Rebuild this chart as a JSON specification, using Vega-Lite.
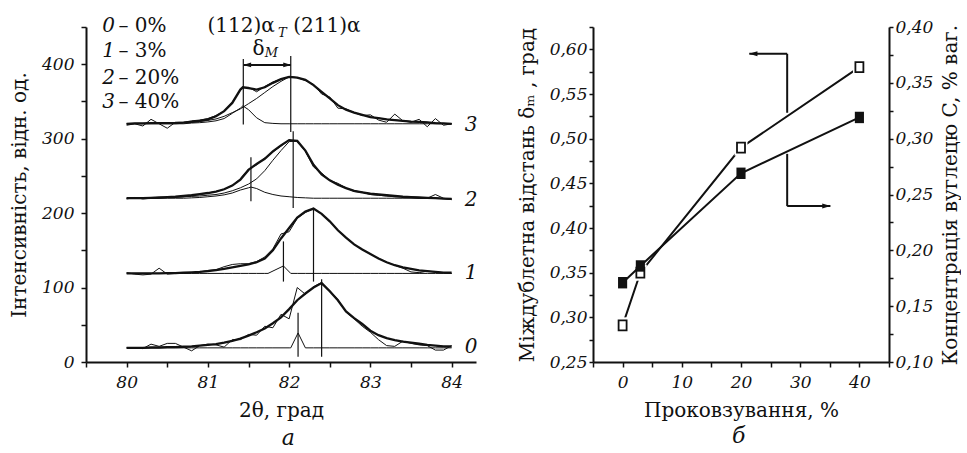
{
  "$schema": "https://vega.github.io/schema/vega-lite/v6.json",
  "background": "white",
  "autosize": {"type": "pad"},
  "padding": {"left": 9, "top": 16, "right": 0, "bottom": 0},
  "spacing": 117,
  "bounds": "flush",
  "config": {
    "view": {"stroke": null},
    "axis": {
      "grid": false,
      "domainColor": "#111",
      "domainWidth": 2,
      "tickColor": "#111",
      "tickWidth": 1.5,
      "tickSize": 5,
      "labelFont": "DejaVu Serif",
      "labelFontStyle": "italic",
      "labelFontSize": 17,
      "labelColor": "#111",
      "labelOverlap": false,
      "labelFlush": false,
      "titleFont": "DejaVu Serif",
      "titleFontSize": 20,
      "titleFontWeight": "normal",
      "titleColor": "#111"
    },
    "text": {"font": "DejaVu Serif", "color": "#111"}
  },
  "datasets": {
    "xrd": [
      {"t":80.0,"e0":19,"f0":19,"s0":19,"e1":120,"f1":119,"s1":119,"e2":219,"f2":220,"m2":220,"s2":220,"e3":318,"f3":320,"m3":320,"s3":320},
      {"t":80.1,"e0":19,"f0":19,"s0":19,"e1":118,"f1":119,"s1":119,"e2":221,"f2":220,"m2":220,"s2":220,"e3":320,"f3":320.5,"m3":320.5,"s3":320},
      {"t":80.2,"e0":18,"f0":19,"s0":19,"e1":117,"f1":119,"s1":119,"e2":219,"f2":220,"m2":220,"s2":220,"e3":317,"f3":320.5,"m3":320.5,"s3":320},
      {"t":80.3,"e0":24,"f0":19.5,"s0":19,"e1":118,"f1":119,"s1":119,"e2":220,"f2":220.5,"m2":220.5,"s2":220,"e3":326,"f3":321,"m3":321,"s3":320},
      {"t":80.4,"e0":21,"f0":19.5,"s0":19,"e1":126,"f1":119,"s1":119,"e2":220,"f2":221,"m2":221,"s2":220,"e3":320,"f3":321,"m3":321,"s3":320},
      {"t":80.5,"e0":25,"f0":20,"s0":19,"e1":118,"f1":119.5,"s1":119,"e2":221,"f2":221.5,"m2":221,"s2":220,"e3":314,"f3":321,"m3":321,"s3":320},
      {"t":80.6,"e0":25,"f0":20,"s0":19,"e1":119,"f1":119.5,"s1":119,"e2":222,"f2":222,"m2":221.5,"s2":220,"e3":322,"f3":321,"m3":321,"s3":320},
      {"t":80.7,"e0":20,"f0":20.5,"s0":19,"e1":119,"f1":120,"s1":119,"e2":222,"f2":223,"m2":222,"s2":220,"e3":322,"f3":321.5,"m3":321.5,"s3":320},
      {"t":80.8,"e0":15,"f0":21,"s0":19,"e1":120,"f1":120.5,"s1":119,"e2":224,"f2":224,"m2":222.5,"s2":220.5,"e3":324,"f3":322.5,"m3":322,"s3":321},
      {"t":80.9,"e0":22,"f0":22,"s0":19,"e1":121,"f1":121,"s1":119,"e2":225,"f2":225.5,"m2":223,"s2":221,"e3":325,"f3":324,"m3":323,"s3":321.5},
      {"t":81.0,"e0":24,"f0":23,"s0":19,"e1":123,"f1":122,"s1":119,"e2":227,"f2":227,"m2":224,"s2":222,"e3":327,"f3":326,"m3":324.5,"s3":322.5},
      {"t":81.1,"e0":23,"f0":24,"s0":19,"e1":124,"f1":123.5,"s1":119,"e2":229,"f2":229,"m2":225,"s2":223,"e3":331,"f3":330,"m3":326.5,"s3":324},
      {"t":81.2,"e0":20,"f0":26,"s0":19,"e1":128,"f1":125,"s1":119,"e2":232,"f2":232,"m2":227,"s2":224.5,"e3":337,"f3":337,"m3":330,"s3":327},
      {"t":81.3,"e0":30,"f0":28.5,"s0":19,"e1":131,"f1":127,"s1":119,"e2":237,"f2":237,"m2":230,"s2":227,"e3":349,"f3":348,"m3":335,"s3":334},
      {"t":81.4,"e0":30,"f0":31.5,"s0":19,"e1":132,"f1":129,"s1":119,"e2":246,"f2":245,"m2":234,"s2":231,"e3":365,"f3":366,"m3":340,"s3":341},
      {"t":81.43,"e3":369,"f3":369,"s3":344},
      {"t":81.5,"e0":37,"f0":35.5,"s0":19,"e1":132,"f1":131,"s1":119,"e2":259,"f2":258,"m2":239,"s2":234,"e3":369,"f3":368,"m3":347,"s3":339},
      {"t":81.53,"s2":235},
      {"t":81.6,"e0":36,"f0":40,"s0":19,"e1":135,"f1":134,"s1":119,"e2":265,"f2":266,"m2":246,"s2":233,"e3":363,"f3":366,"m3":354,"s3":328},
      {"t":81.7,"e0":48,"f0":45,"s0":19,"e1":141,"f1":139,"s1":119,"e2":274,"f2":273,"m2":257,"s2":228,"e3":370,"f3":369,"m3":362,"s3":321.5},
      {"t":81.74,"s1":119},
      {"t":81.8,"e0":46,"f0":52,"s0":19,"e1":152,"f1":150,"e2":282,"f2":283,"m2":271,"s2":225,"e3":376,"f3":375,"m3":370,"s3":320.5},
      {"t":81.9,"e0":64,"f0":60,"s0":19,"e1":172,"f1":166,"e2":290,"f2":291,"m2":284,"s2":223,"e3":380,"f3":380,"m3":377,"s3":320},
      {"t":81.93,"s1":129},
      {"t":82.0,"e0":58,"f0":71,"s0":19,"e1":175,"f1":180,"e2":298,"f2":298,"m2":296,"s2":222,"e3":383,"f3":383,"m3":383,"s3":320},
      {"t":82.02,"s0":19,"s1":119},
      {"t":82.1,"e0":100,"f0":83,"e1":193,"f1":194,"s1":119,"e2":296,"f2":297,"m2":297,"s2":221,"e3":382,"f3":382,"m3":382,"s3":320},
      {"t":82.11,"s0":39},
      {"t":82.2,"e0":91,"f0":92,"s0":19,"e1":201,"f1":202,"s1":119,"e2":283,"f2":284,"m2":284,"s2":220.5,"e3":378,"f3":379,"m3":379,"s3":320},
      {"t":82.3,"e0":101,"f0":100,"s0":19,"e1":206,"f1":206,"s1":119,"e2":262,"f2":265,"m2":265,"s2":220,"e3":373,"f3":372,"m3":372,"s3":320},
      {"t":82.4,"e0":107,"f0":106,"s0":19,"e1":199,"f1":199,"s1":119,"e2":254,"f2":252,"m2":252,"s2":220,"e3":360,"f3":363,"m3":363,"s3":320},
      {"t":82.5,"e0":96,"f0":95,"s0":19,"e1":189,"f1":189,"s1":119,"e2":244,"f2":244,"m2":244,"s2":220,"e3":356,"f3":354,"m3":354,"s3":320},
      {"t":82.6,"e0":84,"f0":83,"s0":19,"e1":177,"f1":177,"s1":119,"e2":240,"f2":238,"m2":238,"s2":220,"e3":341,"f3":345,"m3":345,"s3":320},
      {"t":82.7,"e0":67,"f0":68,"s0":19,"e1":167,"f1":167,"s1":119,"e2":234,"f2":233.5,"m2":233.5,"s2":220,"e3":340,"f3":339,"m3":339,"s3":320},
      {"t":82.8,"e0":58,"f0":59,"s0":19,"e1":158,"f1":158,"s1":119,"e2":229,"f2":230,"m2":230,"s2":220,"e3":335,"f3":335,"m3":335,"s3":320},
      {"t":82.9,"e0":48,"f0":51,"s0":19,"e1":151,"f1":151,"s1":119,"e2":228,"f2":228,"m2":228,"s2":220,"e3":331,"f3":332,"m3":332,"s3":320},
      {"t":83.0,"e0":40,"f0":42,"s0":19,"e1":145,"f1":145,"s1":119,"e2":225,"f2":226,"m2":226,"s2":220,"e3":332,"f3":329,"m3":329,"s3":320},
      {"t":83.1,"e0":30,"f0":36,"s0":19,"e1":139,"f1":139,"s1":119,"e2":224,"f2":225,"m2":225,"s2":220,"e3":325,"f3":327.5,"m3":327.5,"s3":320},
      {"t":83.2,"e0":22,"f0":32,"s0":19,"e1":134,"f1":134,"s1":119,"e2":223,"f2":224,"m2":224,"s2":220,"e3":322,"f3":326,"m3":326,"s3":320},
      {"t":83.3,"e0":21,"f0":29.5,"s0":19,"e1":130,"f1":130,"s1":119,"e2":222,"f2":223,"m2":223,"s2":220,"e3":333,"f3":325,"m3":325,"s3":320},
      {"t":83.4,"e0":28,"f0":27.5,"s0":19,"e1":126,"f1":127,"s1":119,"e2":222,"f2":222,"m2":222,"s2":220,"e3":324,"f3":324,"m3":324,"s3":320},
      {"t":83.5,"e0":25,"f0":26,"s0":19,"e1":121,"f1":125,"s1":119,"e2":221,"f2":221.5,"m2":221.5,"s2":220,"e3":322,"f3":323,"m3":323,"s3":320},
      {"t":83.6,"e0":23,"f0":24.5,"s0":19,"e1":120,"f1":123,"s1":119,"e2":220,"f2":221,"m2":221,"s2":220,"e3":326,"f3":322.5,"m3":322.5,"s3":320},
      {"t":83.7,"e0":22,"f0":23,"s0":19,"e1":122,"f1":122,"s1":119,"e2":220,"f2":220.5,"m2":220.5,"s2":220,"e3":316,"f3":322,"m3":322,"s3":320},
      {"t":83.8,"e0":16,"f0":22,"s0":19,"e1":121,"f1":121,"s1":119,"e2":225,"f2":220,"m2":220,"s2":220,"e3":327,"f3":321,"m3":321,"s3":320},
      {"t":83.9,"e0":16,"f0":21,"s0":19,"e1":120,"f1":120,"s1":119,"e2":220,"f2":219.5,"m2":219.5,"s2":219.5,"e3":318,"f3":320.5,"m3":320.5,"s3":320},
      {"t":84.0,"e0":22,"f0":21,"s0":19,"e1":119,"f1":120,"s1":119,"e2":218,"f2":219,"m2":219,"s2":219,"e3":320,"f3":320,"m3":320,"s3":320}
    ],
    "vlines": [
      {"t":81.436,"v":319,"v2":407},
      {"t":82.02,"v":309,"v2":411},
      {"t":81.53,"v":216,"v2":275},
      {"t":82.05,"v":207,"v2":310},
      {"t":81.93,"v":108,"v2":162},
      {"t":82.3,"v":108,"v2":207},
      {"t":82.11,"v":7,"v2":66},
      {"t":82.4,"v":7,"v2":111}
    ],
    "darrow": [{"t":81.44,"t2":82.02,"v":399}],
    "dheads": [{"t":81.483,"v":399,"dir":"L"},{"t":81.977,"v":399,"dir":"R"}],
    "itL": [
      {"t":79.70,"v":451,"txt":"0"},
      {"t":79.70,"v":418,"txt":"1"},
      {"t":79.70,"v":382,"txt":"2"},
      {"t":79.70,"v":349,"txt":"3"},
      {"t":84.16,"v":318,"txt":"3"},
      {"t":84.16,"v":218,"txt":"2"},
      {"t":84.16,"v":120,"txt":"1"},
      {"t":84.16,"v":20,"txt":"0"}
    ],
    "upL": [
      {"t":79.90,"v":451,"txt":"– 0%"},
      {"t":79.90,"v":418,"txt":"– 3%"},
      {"t":79.90,"v":382,"txt":"– 20%"},
      {"t":79.90,"v":349,"txt":"– 40%"},
      {"t":80.996,"v":451,"txt":"(112)α"},
      {"t":82.05,"v":451,"txt":"(211)α"},
      {"t":81.55,"v":420,"txt":"δ"}
    ],
    "subL": [
      {"t":81.864,"v":442,"txt":"T"},
      {"t":81.70,"v":415,"txt":"M"}
    ],
    "capL": [{"t":81.99,"v":-112,"txt":"а"}],
    "dm": [{"p":0,"d":0.291},{"p":3,"d":0.350},{"p":20,"d":0.490},{"p":40,"d":0.580}],
    "cc": [{"p":0,"c":0.171},{"p":3,"c":0.186},{"p":20,"c":0.269},{"p":40,"c":0.319}],
    "arrv": [{"p":27.8,"d":0.595,"d2":0.529},{"p":27.8,"d":0.483,"d2":0.4245}],
    "arrh": [{"p":21.4,"p2":27.8,"d":0.595},{"p":27.8,"p2":35.1,"d":0.4245}],
    "arrhd": [{"p":22.07,"d":0.595,"dir":"L"},{"p":34.43,"d":0.4245,"dir":"R"}],
    "capR": [{"p":19.6,"d":0.159,"txt":"б"}]
  },
  "hconcat": [
    {
      "width": 390,
      "height": 335,
      "encoding": {
        "x": {"field": "t", "type": "quantitative",
          "scale": {"domain": [79.5, 84.3], "nice": false, "zero": false},
          "axis": {"title": "2θ, град", "values": [79.5,80,80.5,81,81.5,82,82.5,83,83.5,84],
            "labelExpr": "datum.value % 1 == 0 ? format(datum.value, 'd') : ''",
            "labelPadding": 7, "titlePadding": 10}},
        "y": {"field": "v", "type": "quantitative",
          "scale": {"domain": [0, 450], "nice": false, "zero": false},
          "axis": {"title": "Інтенсивність, відн. од.", "values": [0,50,100,150,200,250,300,350,400,450],
            "labelExpr": "datum.value % 100 == 0 && datum.value < 450 ? datum.label : ''",
            "labelPadding": 7, "titlePadding": 12}}
      },
      "layer": [
        {
          "data": {"name": "xrd"},
          "transform": [
            {"fold": ["e0","s0","e1","s1","e2","m2","s2","e3","m3","s3"], "as": ["k","v"]},
            {"filter": "isValid(datum.v)"}
          ],
          "mark": {"type": "line", "color": "#111", "strokeWidth": 1},
          "encoding": {"detail": {"field": "k"}}
        },
        {
          "data": {"name": "xrd"},
          "transform": [
            {"fold": ["f0","f1","f2","f3"], "as": ["k","v"]},
            {"filter": "isValid(datum.v)"}
          ],
          "mark": {"type": "line", "color": "#111", "strokeWidth": 2.3},
          "encoding": {"detail": {"field": "k"}}
        },
        {
          "data": {"name": "vlines"},
          "mark": {"type": "rule", "color": "#111", "strokeWidth": 1.2},
          "encoding": {"y2": {"field": "v2"}}
        },
        {
          "data": {"name": "darrow"},
          "mark": {"type": "rule", "color": "#111", "strokeWidth": 2},
          "encoding": {"x2": {"field": "t2"}}
        },
        {
          "data": {"name": "dheads"},
          "mark": {"type": "point", "filled": true, "color": "#111", "opacity": 1, "size": 64},
          "encoding": {"shape": {"field": "dir", "type": "nominal",
            "scale": {"domain": ["L","R"], "range": ["M-1,0L1,-0.6L1,0.6Z","M1,0L-1,-0.6L-1,0.6Z"]}, "legend": null}}
        },
        {
          "data": {"name": "itL"},
          "mark": {"type": "text", "align": "left", "baseline": "middle", "fontSize": 20, "fontStyle": "italic"},
          "encoding": {"text": {"field": "txt"}}
        },
        {
          "data": {"name": "upL"},
          "mark": {"type": "text", "align": "left", "baseline": "middle", "fontSize": 20},
          "encoding": {"text": {"field": "txt"}}
        },
        {
          "data": {"name": "subL"},
          "mark": {"type": "text", "align": "left", "baseline": "middle", "fontSize": 13, "fontStyle": "italic"},
          "encoding": {"text": {"field": "txt"}}
        },
        {
          "data": {"name": "capL"},
          "mark": {"type": "text", "align": "center", "baseline": "alphabetic", "fontSize": 22, "fontStyle": "italic"},
          "encoding": {"text": {"field": "txt"}}
        }
      ]
    },
    {
      "width": 296,
      "height": 335,
      "encoding": {
        "x": {"field": "p", "type": "quantitative",
          "scale": {"domain": [-5, 45], "nice": false, "zero": false},
          "axis": {"title": "Проковзування, %", "values": [-5,0,5,10,15,20,25,30,35,40,45],
            "labelExpr": "datum.value % 10 == 0 && datum.value >= 0 && datum.value <= 40 ? datum.label : ''",
            "labelPadding": 7, "titlePadding": 10}}
      },
      "layer": [
        {
          "encoding": {
            "y": {"field": "d", "type": "quantitative",
              "scale": {"domain": [0.25, 0.625], "nice": false, "zero": false},
              "axis": {"orient": "left", "title": "Міждублетна відстань δₘ , град",
                "values": [0.25,0.275,0.3,0.325,0.35,0.375,0.4,0.425,0.45,0.475,0.5,0.525,0.55,0.575,0.6,0.625],
                "labelExpr": "round(datum.value*1000) % 50 == 0 && datum.value < 0.62 ? replace(format(datum.value, '.2f'), '.', ',') : ''",
                "labelPadding": 2, "tickSize": 4, "titlePadding": 12}}
          },
          "layer": [
            {
              "data": {"name": "dm"},
              "mark": {"type": "line", "color": "#111", "strokeWidth": 2}
            },
            {
              "data": {"name": "arrv"},
              "mark": {"type": "rule", "color": "#111", "strokeWidth": 2},
              "encoding": {"y2": {"field": "d2"}}
            },
            {
              "data": {"name": "arrh"},
              "mark": {"type": "rule", "color": "#111", "strokeWidth": 2},
              "encoding": {"x2": {"field": "p2"}}
            },
            {
              "data": {"name": "arrhd"},
              "mark": {"type": "point", "filled": true, "color": "#111", "opacity": 1, "size": 70},
              "encoding": {"shape": {"field": "dir", "type": "nominal",
                "scale": {"domain": ["L","R"], "range": ["M-1,0L1,-0.55L1,0.55Z","M1,0L-1,-0.55L-1,0.55Z"]}, "legend": null}}
            },
            {
              "data": {"name": "dm"},
              "mark": {"type": "point", "shape": "M-0.8,-1L0.8,-1L0.8,1L-0.8,1Z", "size": 260, "filled": true, "color": "white", "opacity": 1}
            },
            {
              "data": {"name": "dm"},
              "mark": {"type": "point", "shape": "M-0.8,-1L0.8,-1L0.8,1L-0.8,1Z", "size": 100, "filled": true, "fill": "white", "stroke": "#111", "strokeWidth": 1.8, "opacity": 1}
            },
            {
              "data": {"name": "capR"},
              "mark": {"type": "text", "align": "center", "baseline": "alphabetic", "fontSize": 22, "fontStyle": "italic"},
              "encoding": {"text": {"field": "txt"}}
            }
          ]
        },
        {
          "encoding": {
            "y": {"field": "c", "type": "quantitative",
              "scale": {"domain": [0.1, 0.4], "nice": false, "zero": false},
              "axis": {"orient": "right", "title": "Концентрація вуглецю C, % ваг.",
                "values": [0.1,0.125,0.15,0.175,0.2,0.225,0.25,0.275,0.3,0.325,0.35,0.375,0.4],
                "labelExpr": "round(datum.value*1000) % 50 == 0 ? replace(format(datum.value, '.2f'), '.', ',') : ''",
                "labelPadding": 2, "tickSize": 4, "titlePadding": 8, "titleAngle": 270, "titleBaseline": "top"}}
          },
          "layer": [
            {
              "data": {"name": "cc"},
              "mark": {"type": "line", "color": "#111", "strokeWidth": 2}
            },
            {
              "data": {"name": "cc"},
              "mark": {"type": "point", "shape": "M-0.8,-1L0.8,-1L0.8,1L-0.8,1Z", "size": 130, "filled": true, "color": "#111", "opacity": 1}
            }
          ]
        }
      ],
      "resolve": {"scale": {"y": "independent"}}
    }
  ]
}
